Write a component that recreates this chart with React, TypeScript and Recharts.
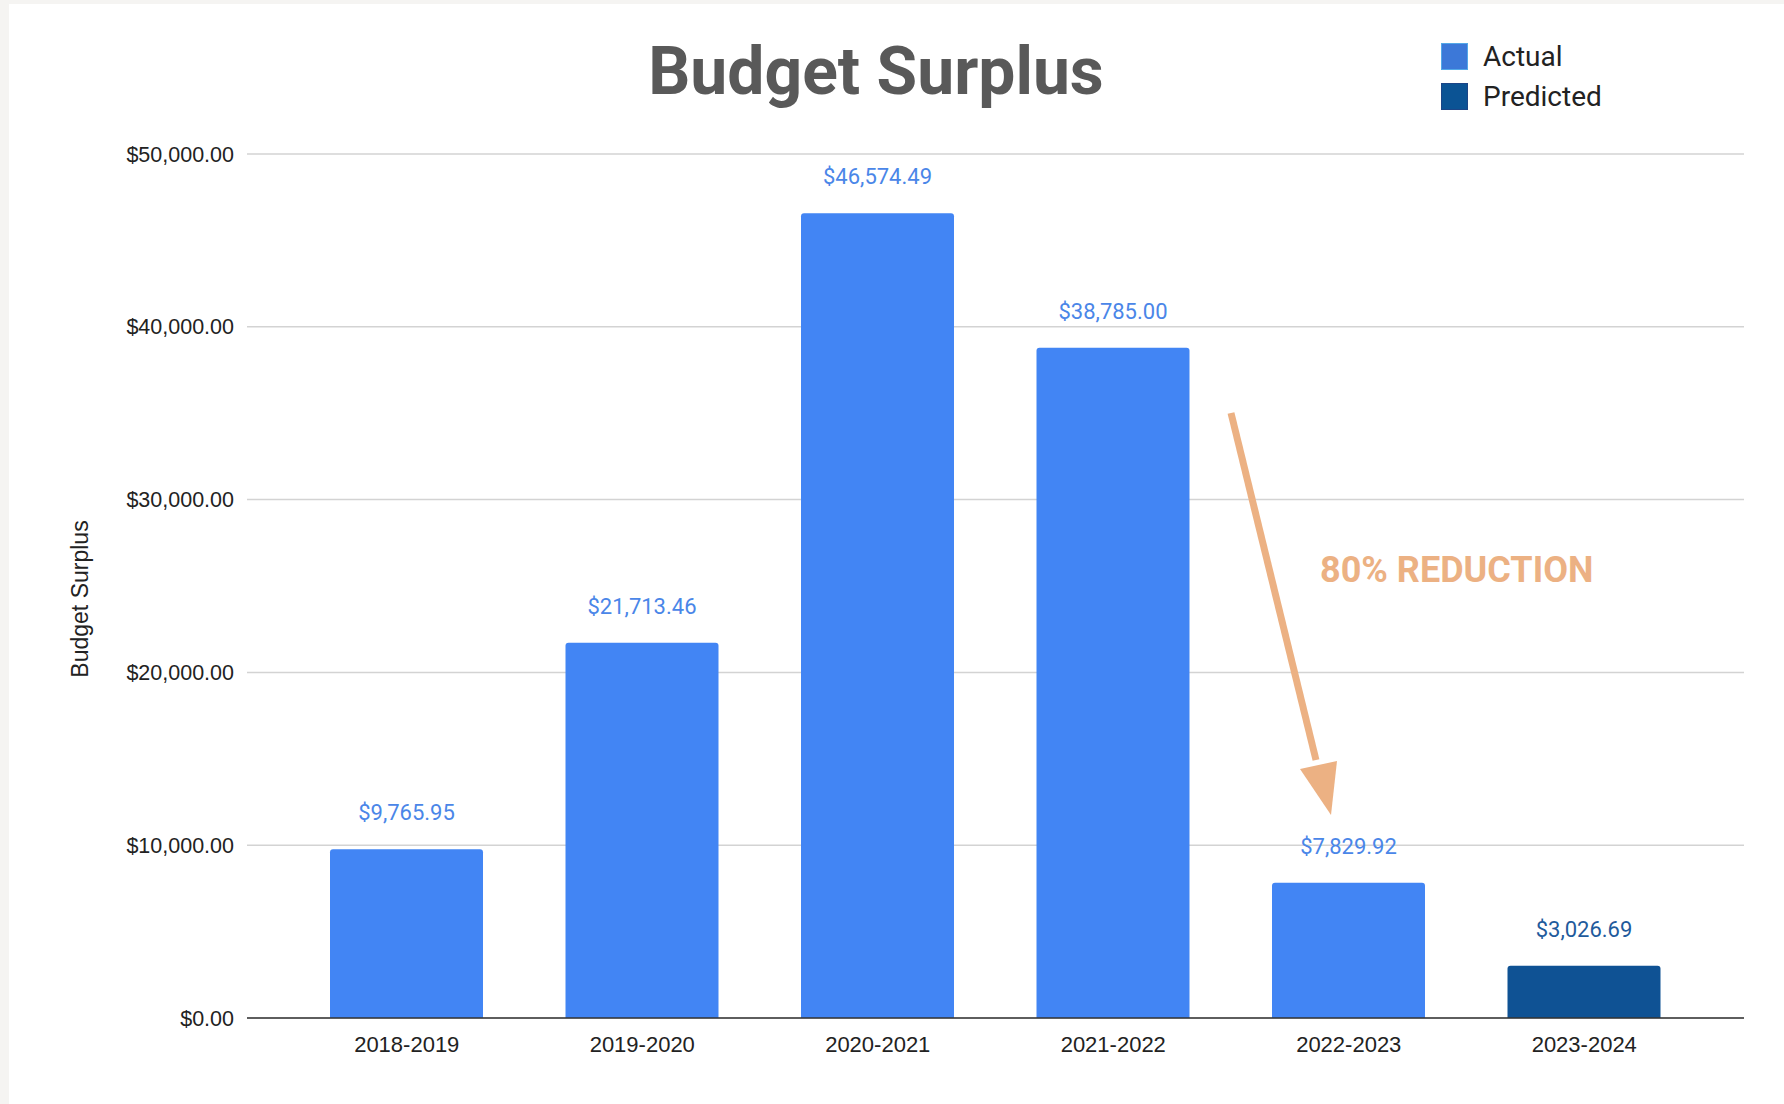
import React from 'react';
import { BarChart, Bar, XAxis, YAxis, CartesianGrid, Legend, LabelList } from 'recharts';

const categories = ['2018-2019', '2019-2020', '2020-2021', '2021-2022', '2022-2023', '2023-2024'];
const actualValues = [9765.95, 21713.46, 46574.49, 38785.0, 7829.92, null];
const predictedValues = [null, null, null, null, null, 3026.69];
const yTicks = [0, 10000, 20000, 30000, 40000, 50000];

const money = (v: number) =>
  '$' + Number(v).toLocaleString('en-US', { minimumFractionDigits: 2, maximumFractionDigits: 2 });

const data = categories.map((name, i) => ({
  name,
  actual: actualValues[i],
  predicted: predictedValues[i],
}));

const legendItems = [
  { label: 'Actual', fill: '#3c78d8', stroke: '#53a8e8' },
  { label: 'Predicted', fill: '#0b5394', stroke: '#1c4587' },
];

const renderLegend = () => (
  <div style={{ fontFamily: 'Roboto, sans-serif', fontSize: 28, color: '#222' }}>
    {legendItems.map((item) => (
      <div key={item.label} style={{ display: 'flex', alignItems: 'center', height: 39.5 }}>
        <div
          style={{
            width: 25,
            height: 25,
            background: item.fill,
            border: `1.5px solid ${item.stroke}`,
            marginRight: 15,
          }}
        />
        <span>{item.label}</span>
      </div>
    ))}
  </div>
);

const App = () => {
  return (
    <div style={{ position: 'absolute', left: 0, top: 0, width: 1784, height: 1104, background: '#f5f4f2' }}>
      <div style={{ position: 'absolute', left: 9, top: 4, right: 0, bottom: 0, background: '#fff' }} />
      <div style={{ position: 'absolute', left: 0, top: 0 }}>
        <BarChart
          width={1784}
          height={1104}
          data={data}
          margin={{ top: 154, right: 40, bottom: 26, left: 0 }}
        >
          <CartesianGrid vertical={false} stroke="#d3d3d3" strokeWidth={1.5} />
          <XAxis
            dataKey="name"
            height={60}
            padding={{ left: 42, right: 42 }}
            tickLine={false}
            tickSize={0}
            tickMargin={18}
            axisLine={{ stroke: '#333', strokeWidth: 1.5 }}
            tick={{ fill: '#222', fontSize: 22, fontFamily: '"Liberation Sans", Arial, sans-serif' }}
          />
          <YAxis
            width={247}
            domain={[0, 50000]}
            ticks={yTicks}
            tickFormatter={money}
            axisLine={false}
            tickLine={false}
            tickSize={0}
            tickMargin={13}
            tick={{ fill: '#222', fontSize: 21.5, fontFamily: '"Liberation Sans", Arial, sans-serif' }}
            label={{
              content: (props: any) => {
                const vb = props.viewBox;
                const cx = vb.x + 80;
                const cy = vb.y + vb.height / 2 + 13;
                return (
                  <text
                    x={cx}
                    y={cy}
                    transform={`rotate(-90, ${cx}, ${cy})`}
                    textAnchor="middle"
                    dominantBaseline="central"
                    fill="#222"
                    fontSize={23}
                    fontFamily='"Liberation Sans", Arial, sans-serif'
                  >
                    Budget Surplus
                  </text>
                );
              },
            }}
          />
          <Legend
            content={renderLegend}
            layout="vertical"
            verticalAlign="middle"
            align="center"
            wrapperStyle={{ top: 37, left: 1441, width: 260 }}
          />
          <Bar
            dataKey="actual"
            name="Actual"
            stackId="s"
            fill="#4285f4"
            barSize={153}
            radius={[3, 3, 0, 0]}
            isAnimationActive={false}
          >
            <LabelList
              dataKey="actual"
              position="top"
              offset={29}
              formatter={(v: any) => (v == null ? '' : money(v))}
              style={{ fill: '#4a86e8', fontSize: 22, fontFamily: 'Roboto, sans-serif' }}
            />
          </Bar>
          <Bar
            dataKey="predicted"
            name="Predicted"
            stackId="s"
            fill="#0f5294"
            barSize={153}
            radius={[3, 3, 0, 0]}
            isAnimationActive={false}
          >
            <LabelList
              dataKey="predicted"
              position="top"
              offset={29}
              formatter={(v: any) => (v == null ? '' : money(v))}
              style={{ fill: '#1f5b9c', fontSize: 22, fontFamily: 'Roboto, sans-serif' }}
            />
          </Bar>
        </BarChart>
      </div>
      {/* title and the annotation arrow */}
      <svg width={1784} height={1104} style={{ position: 'absolute', left: 0, top: 0, pointerEvents: 'none' }}>
        <text
          x={876}
          y={94}
          textAnchor="middle"
          fill="#595959"
          fontSize={66}
          fontWeight={700}
          fontFamily="Roboto, sans-serif"
        >
          Budget Surplus
        </text>
        <line x1={1231} y1={413} x2={1316} y2={760} stroke="#ecb183" strokeWidth={7} />
        <polygon points="1300,769 1337,761 1331,815" fill="#ecb183" />
        <text
          x={1320}
          y={582}
          fill="#ecb183"
          fontSize={36}
          fontWeight={700}
          fontFamily="Roboto, sans-serif"
        >
          80% REDUCTION
        </text>
      </svg>
    </div>
  );
};

export default App;
